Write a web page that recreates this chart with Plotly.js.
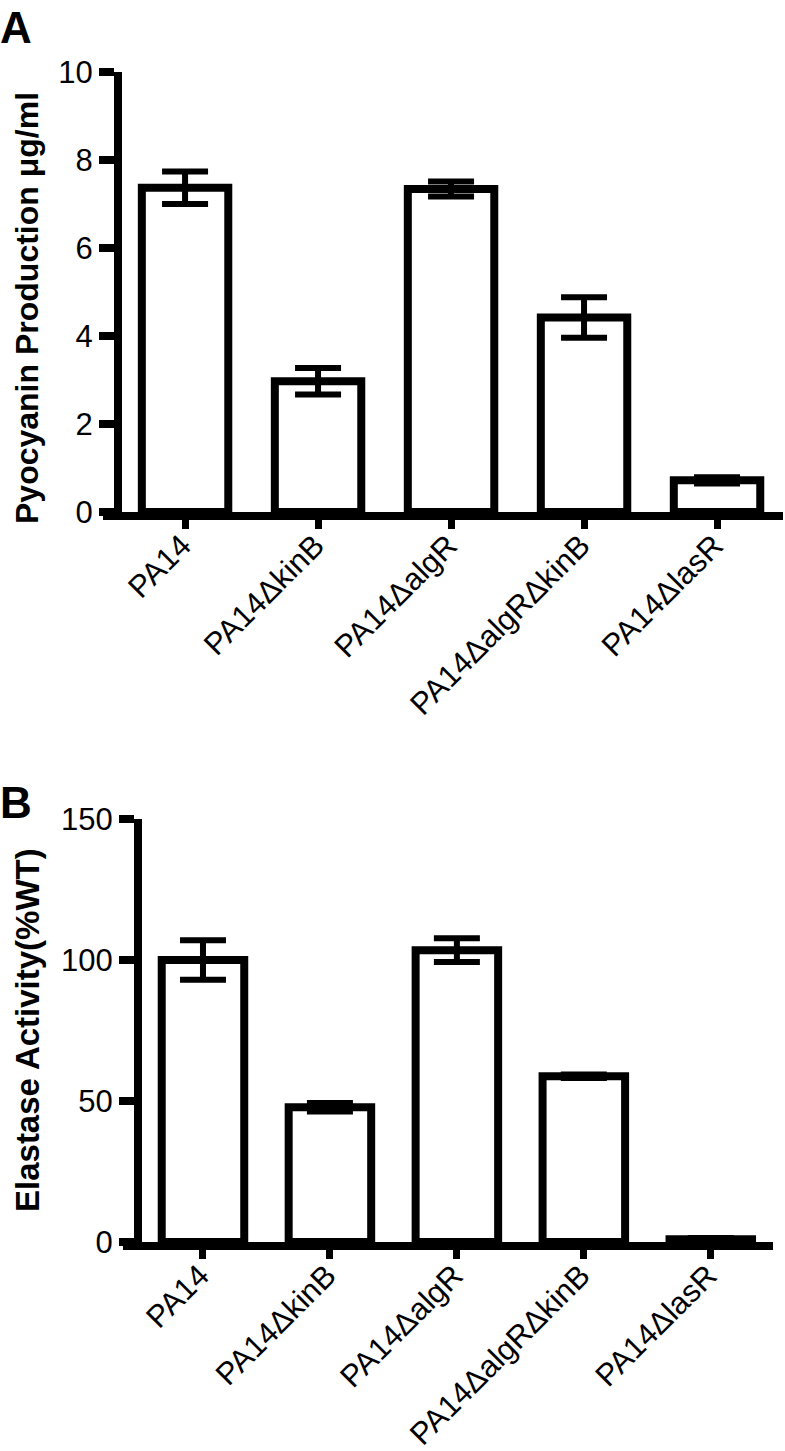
<!DOCTYPE html>
<html>
<head>
<meta charset="utf-8">
<script src="https://cdn.plot.ly/plotly-3.0.1.min.js"></script>
<style>
  body { margin: 0; background: #fff; }
  #chart { width: 785px; height: 1451px; }
</style>
</head>
<body>
<div id="chart"></div>
<script>
// strains (same order in both panels)
const strains = ["PA14", "PA14ΔkinB", "PA14ΔalgR", "PA14ΔalgRΔkinB", "PA14ΔlasR"];
const tickPos = [0, 1, 2, 3, 4];

// panel A: pyocyanin, µg/ml
const pyoMean = [7.37, 2.97, 7.34, 4.42, 0.72];
const pyoErr  = [0.37, 0.30, 0.17, 0.46, 0.07];

// panel B: elastase, % of WT
const elaMean = [100, 47.8, 103.5, 58.8, 1.0];
const elaErr  = [7.0, 1.5, 4.2, 0.6, 0.4];

const W = 785, H = 1451;
const fam = "Liberation Sans, Arial, sans-serif";

function barTrace(y, err, xa, ya) {
  return {
    type: "bar",
    x: strains,
    y: y,
    xaxis: xa,
    yaxis: ya,
    width: 0.65,
    marker: { color: "white", line: { color: "black", width: 8 } },
    error_y: { type: "data", array: err, visible: true, color: "black", thickness: 6, width: 23 },
    hoverinfo: "x+y"
  };
}

// category axis: line + labels, no tick marks
function xAxis(domain, range, anchor) {
  return {
    domain: domain,
    range: range,
    anchor: anchor,
    type: "category",
    showline: true, linecolor: "black", linewidth: 8,
    ticks: "",
    tickangle: -45,
    ticklabelposition: "outside",
    ticklabelstandoff: -5,
    ticklabelshift: -3,
    tickfont: { family: fam, size: 31, color: "black" },
    showgrid: false, zeroline: false, fixedrange: true
  };
}

// overlay axis drawing just the tick marks under the bars
function xTicks(domain, range, anchor, over) {
  return {
    domain: domain,
    range: range,
    anchor: anchor,
    overlaying: over,
    type: "linear",
    tickvals: tickPos,
    showticklabels: false,
    showline: false,
    ticks: "outside", ticklen: 16, tickwidth: 7, tickcolor: "black",
    showgrid: false, zeroline: false, fixedrange: true
  };
}

function yAxis(domain, range, dtick, pos) {
  return {
    domain: domain,
    range: range,
    dtick: dtick,
    anchor: "free",
    position: pos,
    showline: true, linecolor: "black", linewidth: 8,
    ticks: "outside", ticklen: 15, tickwidth: 8, tickcolor: "black",
    tickfont: { family: fam, size: 31, color: "black" },
    showgrid: false, zeroline: false, fixedrange: true
  };
}

const xDomA = [103 / W, 783 / W], xRangeA = [-0.617, 4.496];
const xDomB = [123 / W, 773 / W], xRangeB = [-0.63, 4.49];

const layout = {
  width: W, height: H,
  margin: { l: 0, r: 0, t: 0, b: 0 },
  paper_bgcolor: "white", plot_bgcolor: "white",
  showlegend: false,
  xaxis:  xAxis(xDomA, xRangeA, "y"),
  yaxis:  yAxis([1 - 512 / H, 1 - 72 / H], [0, 10], 2, 118 / W),
  xaxis2: xAxis(xDomB, xRangeB, "y2"),
  yaxis2: yAxis([1 - 1242 / H, 1 - 819 / H], [0, 150], 50, 138 / W),
  xaxis3: xTicks(xDomA, xRangeA, "y", "x"),
  xaxis4: xTicks(xDomB, xRangeB, "y2", "x2"),
  annotations: [
    { text: "<b>A</b>", xref: "paper", yref: "paper", x: -2 / W, y: 1 - 1 / H,
      xanchor: "left", yanchor: "top", showarrow: false,
      font: { family: fam, size: 44, color: "black" } },
    { text: "<b>B</b>", xref: "paper", yref: "paper", x: -2 / W, y: 1 - 776 / H,
      xanchor: "left", yanchor: "top", showarrow: false,
      font: { family: fam, size: 44, color: "black" } },
    { text: "<b>Pyocyanin Production μg/ml</b>", xref: "paper", yref: "paper",
      x: 27 / W, y: 1 - 308 / H, textangle: -90, showarrow: false,
      xanchor: "center", yanchor: "middle",
      font: { family: fam, size: 32, color: "black" } },
    { text: "<b>Elastase Activity(%WT)</b>", xref: "paper", yref: "paper",
      x: 27 / W, y: 1 - 1030 / H, textangle: -90, showarrow: false,
      xanchor: "center", yanchor: "middle",
      font: { family: fam, size: 33, color: "black" } }
  ]
};

// invisible points so the tick-only axes are drawn
const tickHelperA = { type: "scatter", x: tickPos, y: [0, 0, 0, 0, 0], xaxis: "x3", yaxis: "y",
  mode: "markers", marker: { opacity: 0 }, hoverinfo: "skip" };
const tickHelperB = { type: "scatter", x: tickPos, y: [0, 0, 0, 0, 0], xaxis: "x4", yaxis: "y2",
  mode: "markers", marker: { opacity: 0 }, hoverinfo: "skip" };

Plotly.newPlot("chart", [
  barTrace(pyoMean, pyoErr, "x", "y"),
  barTrace(elaMean, elaErr, "x2", "y2"),
  tickHelperA, tickHelperB
], layout, { displayModeBar: false, staticPlot: true });
</script>
</body>
</html>
